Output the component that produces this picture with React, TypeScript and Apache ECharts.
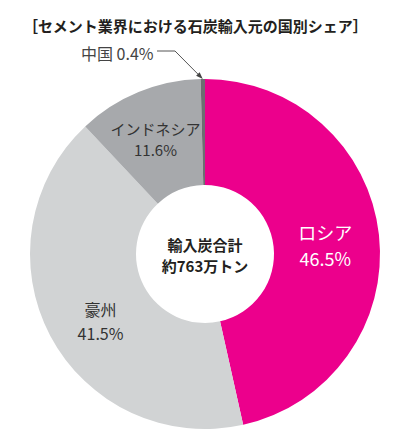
import { useEffect, useRef } from 'react';
import * as echarts from 'echarts';

const countries = ['ロシア', '豪州', 'インドネシア', '中国'];
const shares = [46.5, 41.5, 11.6, 0.4];
const colors = ['#EC008C', '#D1D3D4', '#A7A9AC', '#6D6E71'];
const centerLines = ['輸入炭合計', '約763万トン'];

const FONT = '"Noto Sans CJK JP", "Noto Sans", sans-serif';
const CX = 205;
const CY = 254;
const R0 = 69;
const R = 175;

export default function App() {
  const elRef = useRef<HTMLDivElement | null>(null);

  useEffect(() => {
    document.body.style.margin = '0';
    if (!elRef.current) return;
    const chart = echarts.init(elRef.current, null, { renderer: 'svg' });

    // tip of the leader arrow: outer edge of the China slice, at its mid angle
    const total = shares.reduce((a, b) => a + b, 0);
    const before = shares.slice(0, 3).reduce((a, b) => a + b, 0);
    const mid = ((before + shares[3] / 2) / total) * Math.PI * 2;
    const tip = [CX + R * Math.sin(mid), CY - R * Math.cos(mid)];
    const elbow = [175, 51];
    const dx = tip[0] - elbow[0];
    const dy = tip[1] - elbow[1];
    const len = Math.hypot(dx, dy);
    const ux = dx / len;
    const uy = dy / len;
    const base = [tip[0] - ux * 7, tip[1] - uy * 7];
    const arrow = [
      tip,
      [base[0] - uy * 2.5, base[1] + ux * 2.5],
      [base[0] + uy * 2.5, base[1] - ux * 2.5],
    ];

    const labelStyles = [
      { color: '#ffffff', fontSize: 18, lineHeight: 26, offset: [-4, 5] },
      { color: '#333333', fontSize: 16, lineHeight: 24, offset: [6, 9] },
      { color: '#333333', fontSize: 15, lineHeight: 21, offset: [-2, 1] },
    ];

    chart.setOption({
      animation: false,
      title: {
        text: '［セメント業界における石炭輸入元の国別シェア］',
        left: 18,
        top: 13,
        textStyle: { fontFamily: FONT, fontSize: 15, fontWeight: 'bold', color: '#231F20' },
      },
      series: [
        {
          type: 'pie',
          center: [CX, CY],
          radius: [R0, R],
          startAngle: 90,
          clockwise: true,
          silent: true,
          avoidLabelOverlap: false,
          emphasis: { disabled: true },
          itemStyle: { borderWidth: 0 },
          labelLayout: (p: any) =>
            p.dataIndex === 3 ? { x: 81, y: 53, align: 'left', verticalAlign: 'middle' } : {},
          data: countries.map((name, i) => {
            const item: any = { name, value: shares[i], itemStyle: { color: colors[i] } };
            if (i < 3) {
              const s = labelStyles[i];
              item.label = {
                position: 'inside',
                formatter: `{b}\n${shares[i].toFixed(1)}%`,
                fontFamily: FONT,
                color: s.color,
                fontSize: s.fontSize,
                lineHeight: s.lineHeight,
                offset: s.offset,
              };
            } else {
              item.label = {
                position: 'outside',
                formatter: `{b} ${shares[i].toFixed(1)}%`,
                fontFamily: FONT,
                color: '#444444',
                fontSize: 16,
              };
              item.labelLine = { show: false };
            }
            return item;
          }),
        },
      ],
      graphic: [
        {
          type: 'text',
          x: CX,
          y: CY + 1,
          style: {
            text: centerLines.join('\n'),
            fontFamily: FONT,
            fontSize: 15,
            fontWeight: 'bold',
            lineHeight: 21,
            fill: '#231F20',
            align: 'center',
            verticalAlign: 'middle',
          },
        },
        {
          type: 'polyline',
          shape: { points: [[157, 51], elbow, [tip[0] - ux * 5, tip[1] - uy * 5]] },
          style: { stroke: '#555555', lineWidth: 1, fill: 'none' },
        },
        {
          type: 'polygon',
          shape: { points: arrow },
          style: { fill: '#444444' },
        },
      ],
    });

    return () => chart.dispose();
  }, []);

  return <div ref={elRef} style={{ width: 400, height: 447 }} />;
}
